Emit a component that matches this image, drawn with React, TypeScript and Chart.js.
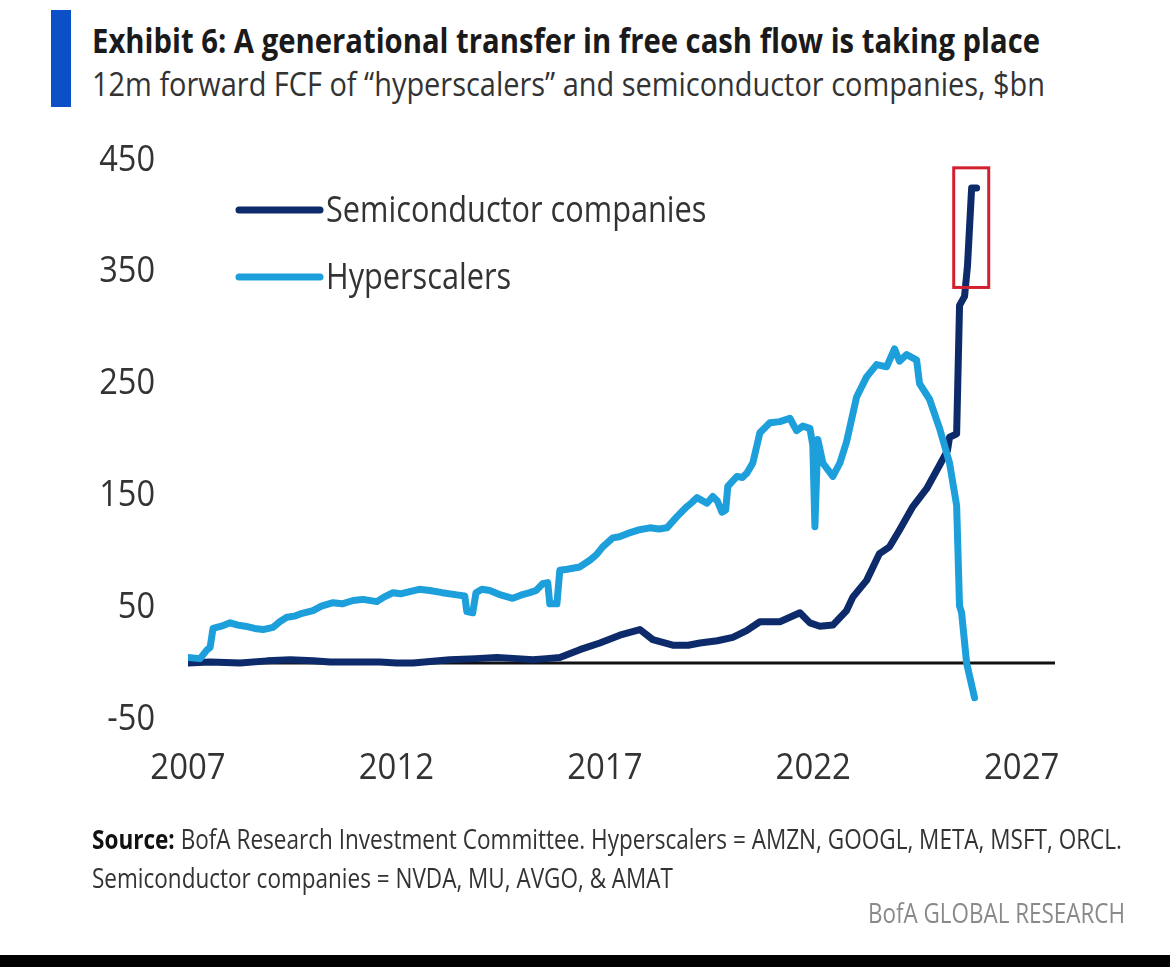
import React, { useEffect, useLayoutEffect, useRef } from "react";
import { Chart, registerables } from "chart.js";

Chart.register(...registerables);

// ---------- data ----------
const hyperYears = [
  2007.0, 2007.29, 2007.46, 2007.53, 2007.6, 2007.8, 2008.01, 2008.2, 2008.37, 2008.6, 2008.8, 2009.04,
  2009.2, 2009.37, 2009.55, 2009.69, 2010.0, 2010.2, 2010.48, 2010.7, 2010.96, 2011.2, 2011.53, 2011.7,
  2011.92, 2012.1, 2012.32, 2012.55, 2012.8, 2013.1, 2013.45, 2013.64, 2013.69, 2013.83, 2013.91, 2014.05,
  2014.24, 2014.5, 2014.79, 2015.0, 2015.2, 2015.35, 2015.51, 2015.63, 2015.68, 2015.85, 2015.92, 2016.1,
  2016.4, 2016.64, 2016.8, 2016.95, 2017.19, 2017.35, 2017.55, 2017.8, 2018.08, 2018.3, 2018.49, 2018.73,
  2018.97, 2019.1, 2019.21, 2019.45, 2019.59, 2019.7, 2019.81, 2019.9, 2019.95, 2020.17, 2020.3, 2020.41,
  2020.55, 2020.72, 2020.96, 2021.2, 2021.44, 2021.6, 2021.75, 2021.92, 2021.99, 2022.04, 2022.11, 2022.23,
  2022.47, 2022.64, 2022.8, 2023.04, 2023.28, 2023.52, 2023.76, 2023.95, 2024.07, 2024.24, 2024.48, 2024.55,
  2024.79, 2025.03, 2025.27, 2025.44, 2025.51, 2025.56, 2025.68, 2025.87,
];
const hyperValues = [
  5, 4, 12, 14, 31, 33, 36, 34, 33, 31, 30, 32,
  37, 41, 42, 44, 47, 51, 54, 53, 56, 57, 55, 59,
  63, 62, 64, 66, 65, 63, 61, 60, 46, 45, 63, 66,
  65, 61, 58, 61, 63, 65, 71, 72, 53, 53, 83, 84,
  86, 92, 97, 104, 112, 113, 116, 119, 121, 120, 121, 131,
  140, 144, 148, 143, 149, 145, 135, 137, 158, 167, 166, 170,
  179, 206, 215, 216, 219, 208, 212, 210, 195, 122, 200, 179,
  167, 179, 198, 238, 256, 267, 265, 281, 270, 276, 271, 250,
  236, 210, 179, 141, 51, 45, 0, -31,
];
const semiYears = [
  2007.0, 2007.53, 2008.25, 2008.9, 2009.45, 2010.0, 2010.41, 2011.0, 2011.6, 2012.0, 2012.4, 2013.28,
  2013.9, 2014.41, 2014.9, 2015.27, 2015.6, 2015.92, 2016.4, 2016.88, 2017.36, 2017.84, 2018.15, 2018.63,
  2019.0, 2019.28, 2019.7, 2020.07, 2020.4, 2020.72, 2021.2, 2021.68, 2021.92, 2022.16, 2022.47, 2022.8,
  2022.95, 2023.28, 2023.59, 2023.83, 2024.07, 2024.39, 2024.72, 2025.03, 2025.22, 2025.27, 2025.44, 2025.51,
  2025.63, 2025.7, 2025.8, 2025.92,
];
const semiValues = [
  0, 1, 0, 2, 3, 2, 1, 1, 1, 0, 0, 3,
  4, 5, 4, 3, 4, 5, 12, 18, 25, 30, 21, 16,
  16, 18, 20, 23, 29, 37, 37, 45, 36, 33, 34, 47,
  59, 74, 98, 104, 119, 140, 156, 177, 190, 202, 205, 320,
  328, 355, 425, 425,
];
const xTicks = [2007, 2012, 2017, 2022, 2027];
const yTicks = [-50, 50, 150, 250, 350, 450];
const highlightX = [2025.37, 2026.21];
const highlightY = [336, 443];
const legendLabels = ["Semiconductor companies", "Hyperscalers"];

const NAVY = "#0d2a6b";
const LIGHT = "#1c9fdb";
const TICK_FONT = "'Open Sans', sans-serif";
const TEXT_SQUEEZE = 0.88;

// ---------- fit text helper ----------
function FitText(props: {
  text: React.ReactNode;
  left?: number;
  right?: number;
  top: number;
  width: number;
  size: number;
  weight?: number;
  color: string;
}) {
  const ref = useRef<HTMLSpanElement>(null);
  useLayoutEffect(() => {
    const el = ref.current;
    if (!el) return;
    el.style.transform = "none";
    const w = el.getBoundingClientRect().width;
    if (w > 0) el.style.transform = `scaleX(${props.width / w})`;
  });
  const left = props.left !== undefined ? props.left : (props.right as number) - props.width;
  return (
    <span
      ref={ref}
      style={{
        position: "absolute",
        left,
        top: props.top,
        whiteSpace: "nowrap",
        fontFamily: "'Open Sans', sans-serif",
        fontSize: props.size,
        fontWeight: props.weight ?? 400,
        color: props.color,
        lineHeight: 1,
        transformOrigin: "0 0",
        display: "inline-block",
      }}
    >
      {props.text}
    </span>
  );
}

function squeezedText(ctx: any, text: string, x: number, y: number, align: string, sx: number) {
  ctx.save();
  ctx.translate(x, y);
  ctx.scale(sx, 1);
  ctx.textAlign = align;
  ctx.fillText(text, 0, 0);
  ctx.restore();
}

export default function App() {
  const canvasRef = useRef<HTMLCanvasElement>(null);

  useEffect(() => {
    const canvas = canvasRef.current;
    if (!canvas) return;

    const overlay = {
      id: "overlay",
      beforeDatasetsDraw(chart: any) {
        const { ctx, chartArea, scales } = chart;
        const y0 = scales.y.getPixelForValue(0);
        ctx.save();
        ctx.strokeStyle = "#111";
        ctx.lineWidth = 3;
        ctx.beginPath();
        ctx.moveTo(chartArea.left, y0);
        ctx.lineTo(chartArea.right, y0);
        ctx.stroke();
        ctx.restore();
      },
      afterDatasetsDraw(chart: any) {
        const { ctx, scales, chartArea } = chart;
        // axis tick labels (from the library's scales), slightly condensed
        ctx.save();
        ctx.font = `37px ${TICK_FONT}`;
        ctx.fillStyle = "#333";
        ctx.textBaseline = "middle";
        scales.y.ticks.forEach((t: any) => {
          squeezedText(ctx, String(t.value), chartArea.left - 33, scales.y.getPixelForValue(t.value), "right", TEXT_SQUEEZE);
        });
        scales.x.ticks.forEach((t: any) => {
          squeezedText(ctx, String(t.value), scales.x.getPixelForValue(t.value), chartArea.bottom + 49, "center", 0.89);
        });
        ctx.restore();

        // highlight box
        const x1 = scales.x.getPixelForValue(highlightX[0]);
        const x2 = scales.x.getPixelForValue(highlightX[1]);
        const y1 = scales.y.getPixelForValue(highlightY[1]);
        const y2 = scales.y.getPixelForValue(highlightY[0]);
        ctx.save();
        ctx.strokeStyle = "#d3202f";
        ctx.lineWidth = 3;
        ctx.strokeRect(x1, y1, x2 - x1, y2 - y1);
        // legend
        const colors = [NAVY, LIGHT];
        const ys = [210, 277];
        ctx.lineCap = "round";
        ctx.font = `37px ${TICK_FONT}`;
        ctx.textBaseline = "middle";
        ctx.fillStyle = "#333";
        legendLabels.forEach((lab, i) => {
          ctx.strokeStyle = colors[i];
          ctx.lineWidth = 7;
          ctx.beginPath();
          ctx.moveTo(239, ys[i]);
          ctx.lineTo(320, ys[i]);
          ctx.stroke();
          squeezedText(ctx, lab, 326, ys[i] + 1, "left", 0.83);
        });
        ctx.restore();
      },
    };

    const chart = new Chart(canvas, {
      type: "line",
      data: {
        datasets: [
          {
            label: "Hyperscalers",
            data: hyperYears.map((x, i) => ({ x, y: hyperValues[i] })),
            borderColor: LIGHT,
            borderWidth: 7,
            pointRadius: 0,
            tension: 0,
            borderJoinStyle: "round",
            borderCapStyle: "round",
            order: 0,
          },
          {
            label: "Semiconductor companies",
            data: semiYears.map((x, i) => ({ x, y: semiValues[i] })),
            borderColor: NAVY,
            borderWidth: 7,
            pointRadius: 0,
            tension: 0,
            borderJoinStyle: "round",
            borderCapStyle: "round",
            order: 1,
          },
        ],
      },
      options: {
        animation: false,
        responsive: false,
        devicePixelRatio: 1,
        layout: { padding: { top: 160, right: 115, left: 0, bottom: 0 } },
        plugins: { legend: { display: false }, tooltip: { enabled: false } },
        scales: {
          x: {
            type: "linear",
            min: 2007,
            max: 2027.8,
            grid: { display: false, drawTicks: false },
            border: { display: false },
            afterBuildTicks: (s: any) => {
              s.ticks = xTicks.map((v) => ({ value: v }));
            },
            afterFit: (s: any) => {
              s.height = 236;
            },
            ticks: { display: false, autoSkip: false, maxRotation: 0 },
          },
          y: {
            type: "linear",
            min: -50,
            max: 450,
            grid: { display: false, drawTicks: false },
            border: { display: false },
            afterBuildTicks: (s: any) => {
              s.ticks = yTicks.map((v) => ({ value: v }));
            },
            afterFit: (s: any) => {
              s.width = 188;
            },
            ticks: { display: false },
          },
        },
      },
      plugins: [overlay],
    } as any);

    return () => chart.destroy();
  }, []);

  return (
    <div
      style={{
        position: "absolute",
        left: 0,
        top: 0,
        width: 1170,
        height: 967,
        background: "#fff",
        overflow: "hidden",
      }}
    >
      <div style={{ position: "absolute", left: 51, top: 10, width: 20, height: 97, background: "#0b50c6" }} />
      <FitText
        text="Exhibit 6: A generational transfer in free cash flow is taking place"
        left={92}
        top={23}
        width={948}
        size={34}
        weight={700}
        color="#1a1a1a"
      />
      <FitText
        text="12m forward FCF of “hyperscalers” and semiconductor companies, $bn"
        left={92}
        top={68}
        width={953}
        size={32}
        weight={400}
        color="#333"
      />
      <canvas
        ref={canvasRef}
        width={1170}
        height={955}
        style={{ position: "absolute", left: 0, top: 0, width: 1170, height: 955 }}
      />
      <FitText
        text={
          <>
            <b style={{ color: "#111" }}>Source:</b> BofA Research Investment Committee. Hyperscalers = AMZN, GOOGL,
            META, MSFT, ORCL.
          </>
        }
        left={92}
        top={825}
        width={1030}
        size={27}
        color="#333"
      />
      <FitText
        text="Semiconductor companies = NVDA, MU, AVGO, & AMAT"
        left={92}
        top={864}
        width={581}
        size={27}
        color="#333"
      />
      <FitText text="BofA GLOBAL RESEARCH" right={1125} top={899} width={257} size={27} color="#8a8a8a" />
      <div style={{ position: "absolute", left: 0, top: 955, width: 1170, height: 12, background: "#000" }} />
    </div>
  );
}
